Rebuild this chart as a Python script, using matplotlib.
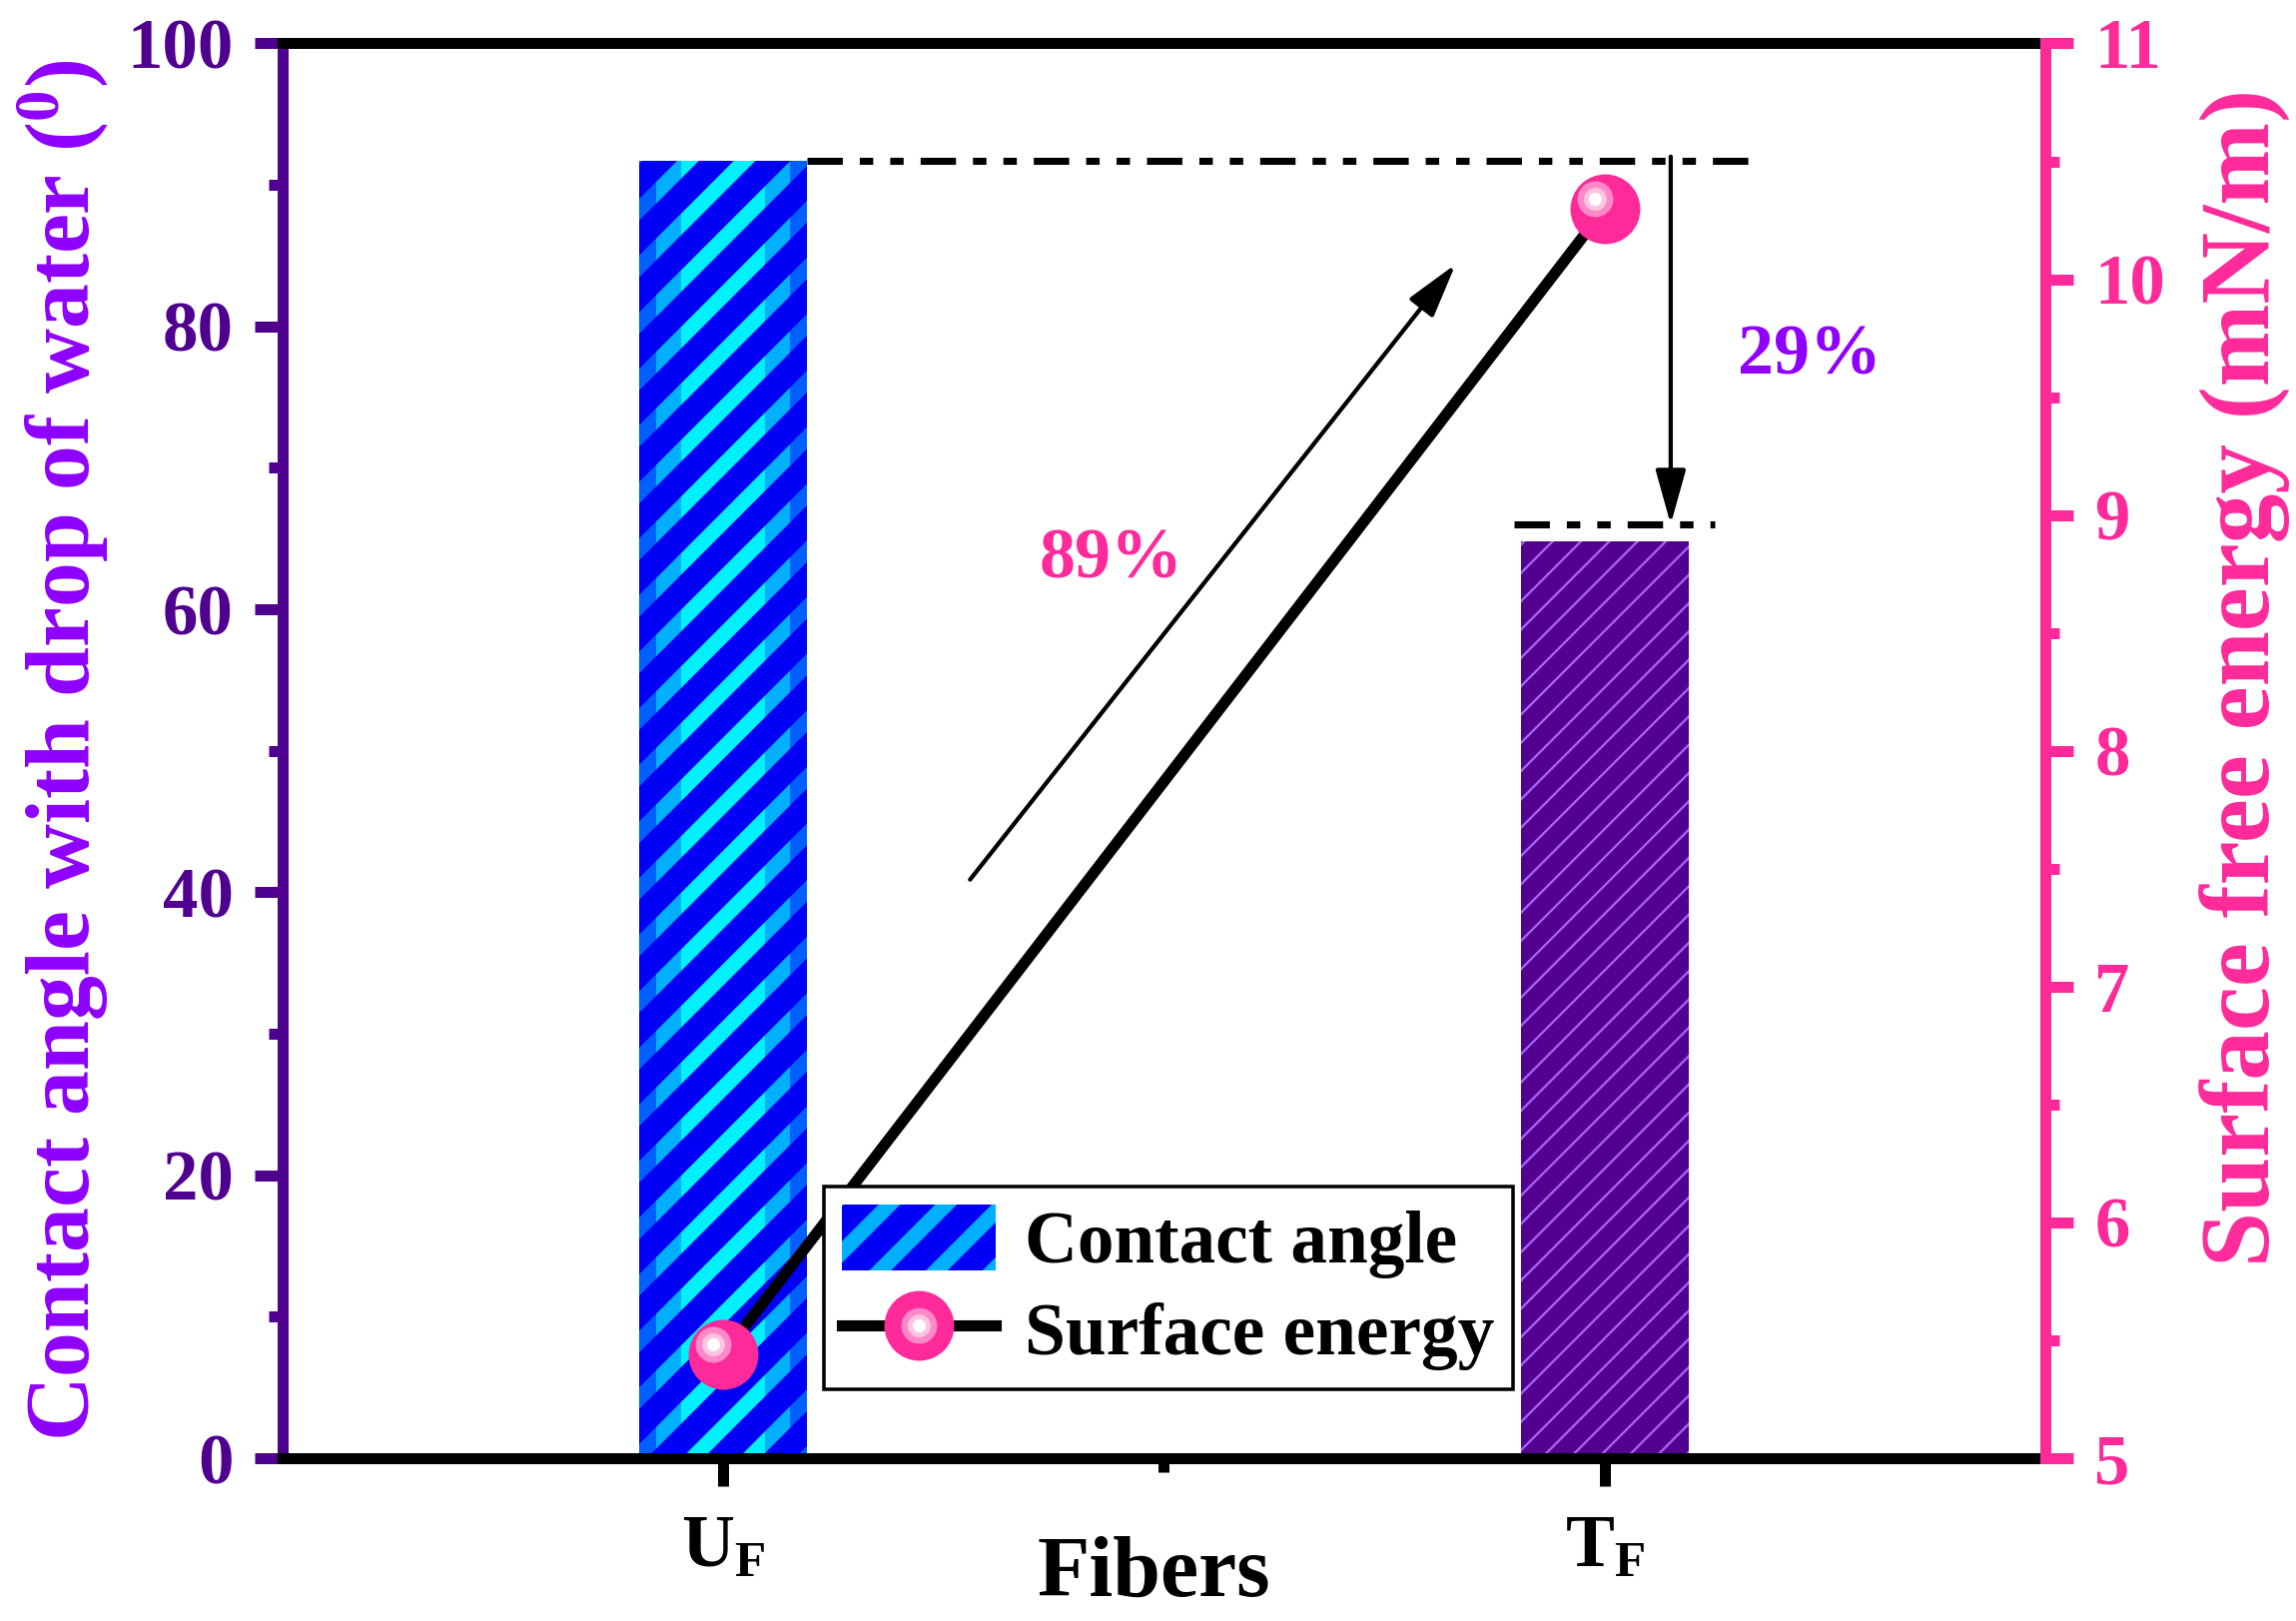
import matplotlib
matplotlib.use('Agg')
import matplotlib.pyplot as plt
from matplotlib.ticker import MultipleLocator, FixedLocator
from matplotlib.transforms import ScaledTranslation
from matplotlib.legend_handler import HandlerTuple

# Данные
categories = ['U$_\\mathregular{F}$', 'T$_\\mathregular{F}$']
contact_angle = [91.7, 64.8]       # угол смачивания, градусы
surface_energy = [5.44, 10.30]     # поверхностная энергия, mN/m
pct_labels = ['89%', '29%']

DPI = 170
plt.rcParams['font.family'] = ['Liberation Serif', 'DejaVu Serif']
plt.rcParams['font.weight'] = 'bold'
plt.rcParams['axes.labelweight'] = 'bold'
plt.rcParams['mathtext.default'] = 'regular'

purple_dark = '#50008F'
violet = '#8F00FF'
pink = '#FF2A9A'

fig = plt.figure(figsize=(2299 / DPI, 1623 / DPI), dpi=DPI)
ax = fig.add_axes([0.1231, 0.1004, 0.7677, 0.8728])
ax2 = ax.twinx()

x = [1, 2]
w = 0.19
UF_HLW = 6.5


def hatched_bar(xpos, h, width, face, hcolor, hatch, hlw):
    with plt.rc_context({'hatch.linewidth': hlw}):
        b = ax.bar(xpos, h, width, color=face, edgecolor=hcolor, hatch=hatch,
                   linewidth=0, zorder=2)[0]
    if hasattr(b, 'set_hatch_linewidth'):
        b.set_hatch_linewidth(hlw)
    return b


# U_F: несколько слоёв, чтобы полосы светлели к центру
b_outer = hatched_bar(x[0], contact_angle[0], w, '#0000F5', '#0060FF', '/', UF_HLW)
b_mid = hatched_bar(x[0], contact_angle[0], w * 0.8, '#0000F5', '#00B0FF', '/', UF_HLW)
b_in = hatched_bar(x[0], contact_angle[0], w * 0.5, '#0000F5', '#00F0FF', '/', UF_HLW)
# T_F
b_t = hatched_bar(x[1], contact_angle[1], w, '#52008F', '#A860F5', '//', 1.0)

# Поверхностная энергия
ln, = ax2.plot(x, surface_energy, '-', color='k', lw=4.7, marker='o', ms=29.6,
               mfc=pink, mec=pink, mew=0, zorder=3)
off = ScaledTranslation(-10 / DPI, 10 / DPI, fig.dpi_scale_trans)
highlights = []
for ms, c in [(15.2, '#FF88C8'), (9.7, '#FFC4E2'), (5.5, 'white')]:
    h, = ax2.plot(x, surface_energy, 'o', ms=ms, mfc=c, mec=c, mew=0,
                  transform=ax2.transData + off, zorder=4)
    highlights.append(h)

# Вспомогательные линии и стрелки
dash = (0, (5, 2.4, 1.9, 2.4, 1.9, 2.4))
ax.plot([x[0] + w / 2, x[1] + 0.163], [contact_angle[0]] * 2, color='k', lw=3, ls=dash, zorder=3)
ax.plot([x[1] - 0.103, x[1] + 0.125], [contact_angle[1] + 1.2] * 2, color='k', lw=3, ls=dash, zorder=3)
arrow = dict(arrowstyle='-|>,head_length=0.9,head_width=0.25', color='k', lw=1.8,
             mutation_scale=22, shrinkA=0, shrinkB=0)
ax.annotate('', xy=(x[1] + 0.075, contact_angle[1] + 1.2), xytext=(x[1] + 0.075, contact_angle[0] + 0.3),
            arrowprops=arrow)
ax.annotate('', xy=(1.831, 84.4), xytext=(1.28, 40.9), arrowprops=arrow)
ax.text(1.44, 63.5, pct_labels[0], color=pink, fontsize=30.5, ha='center', va='center')
ax.text(2.233, 77.9, pct_labels[1], color=violet, fontsize=30.5, ha='center', va='center')

# Оси
ax.set_xlim(0.5, 2.5)
ax.set_ylim(0, 100)
ax2.set_ylim(5, 11)
ax.set_xticks(x)
ax.set_xticklabels(categories)
ax.xaxis.set_minor_locator(FixedLocator([1.5]))
ax.yaxis.set_major_locator(MultipleLocator(20))
ax.yaxis.set_minor_locator(MultipleLocator(10))
ax2.yaxis.set_major_locator(MultipleLocator(1))
ax2.yaxis.set_minor_locator(MultipleLocator(0.5))

sw = 4.66
for s in ['top', 'bottom']:
    ax.spines[s].set_color('k')
    ax.spines[s].set_linewidth(sw)
ax.spines['left'].set_color(purple_dark)
ax.spines['left'].set_linewidth(sw)
ax.spines['right'].set_visible(False)
for s in ['left', 'top', 'bottom']:
    ax2.spines[s].set_visible(False)
ax2.spines['right'].set_color(pink)
ax2.spines['right'].set_linewidth(sw)

ax.tick_params(axis='y', which='both', direction='out', colors=purple_dark, width=sw,
               labelsize=30, pad=9, right=False)
ax.tick_params(axis='x', which='both', direction='out', color='k', width=sw,
               labelsize=31, pad=12, top=False)
ax.tick_params(which='major', length=11.9)
ax.tick_params(which='minor', length=5.9)
ax2.tick_params(axis='y', which='both', direction='out', colors=pink, width=sw,
                labelsize=30, pad=9)
ax2.tick_params(which='major', length=11.9)
ax2.tick_params(which='minor', length=5.9)

ax.set_ylabel('Contact angle with drop of water ($^\\mathregular{0}$)', color=violet, fontsize=38)
ax2.set_ylabel('Surface free energy (mN/m)', color=pink, fontsize=42)
ax.set_xlabel('Fibers', fontsize=36.4)
ax.yaxis.set_label_coords(-0.098, 0.5)
ax2.yaxis.set_label_coords(1.088, 0.552)
ax.xaxis.set_label_coords(0.494, -0.055)

# Легенда
with plt.rc_context({'hatch.linewidth': UF_HLW}):
    leg = ax2.legend([b_mid, (ln, *highlights)], ['Contact angle', 'Surface energy'],
                     handler_map={tuple: HandlerTuple(ndivide=1, pad=0)},
                     loc='lower left', bbox_to_anchor=(0.307, 0.049), borderaxespad=0,
                     frameon=True, fancybox=False, edgecolor='k', framealpha=1,
                     fontsize=31, handlelength=2.1, handleheight=1.0, handletextpad=0.4,
                     labelspacing=0.25, borderpad=0.25)
for p in leg.get_patches():
    if hasattr(p, 'set_hatch_linewidth'):
        p.set_hatch_linewidth(UF_HLW)
leg.get_frame().set_linewidth(1.5)
leg.set_zorder(10)

fig.savefig('out.png', dpi=DPI)
